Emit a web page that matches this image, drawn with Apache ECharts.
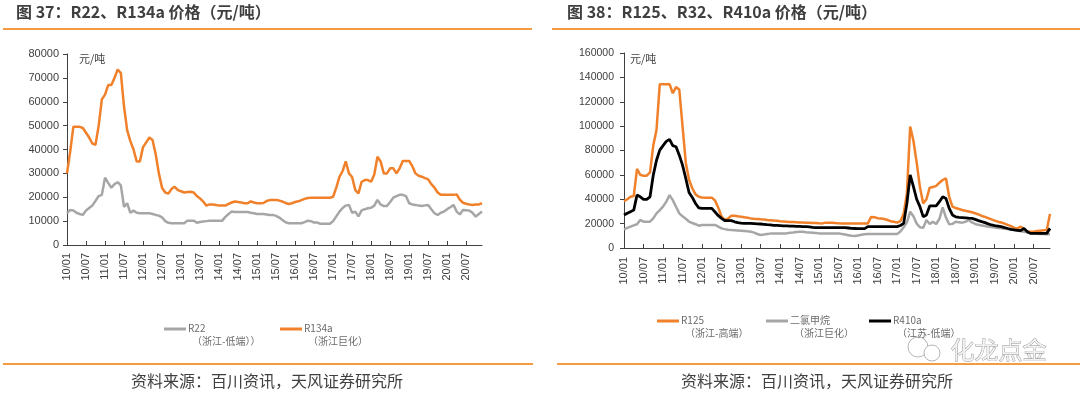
<!DOCTYPE html>
<html>
<head>
<meta charset="utf-8">
<script src="https://cdn.jsdelivr.net/npm/echarts@6/dist/echarts.min.js"></script>
<style>
  html, body { margin: 0; padding: 0; background: #fff; }
  #chart { width: 1080px; height: 397px; }
</style>
</head>
<body>
<div id="chart"></div>
<script>
// months 2010/01 .. 2020/12, one point per month
const months = [];
for (let y = 10; y <= 20; y++) {
  for (let m = 1; m <= 12; m++) months.push(y + '/' + (m < 10 ? '0' + m : m));
}

// 图37 (元/吨)
const r22 = [
  13300, 14700, 14500, 13500, 13000, 12600, 14500, 15500, 16500, 18500, 20500, 21000,
  28200, 26000, 24000, 25500, 26300, 25000, 16000, 17500, 13500, 14400, 13500, 13300,
  13300, 13300, 13300, 13000, 12600, 12300, 11600, 10000, 9300, 9100, 9100, 9100,
  9100, 9100, 10200, 10200, 10200, 9300, 9600, 9800, 10000, 10200, 10200, 10200,
  10200, 10200, 11800, 13000, 14000, 13800, 13800, 13800, 13800, 13800, 13500, 13300,
  13000, 13000, 13000, 12800, 12600, 12600, 12200, 11500, 10500, 9500, 9100, 9100,
  9100, 9100, 9100, 9600, 10200, 10000, 9400, 9400, 8900, 8900, 8900, 8900,
  10000, 12000, 14000, 15500, 16500, 16800, 13500, 14000, 12000, 14500, 15000, 15400,
  15600, 16500, 18900, 17000, 16300, 16300, 18000, 19800, 20500, 21000, 21000, 20500,
  17500, 17000, 16800, 16500, 16300, 16600, 16800, 15000, 13300, 12600, 13500, 14000,
  15000, 15800, 16800, 14000, 12800, 14700, 14600, 14400, 13500, 11900, 13000, 14000
];
const r134a = [
  30000, 39000, 49500, 49500, 49500, 49000, 47000, 45000, 42500, 42000, 50000, 61000,
  63000, 67000, 67000, 70000, 73500, 72000, 58000, 48000, 43500, 40000, 35000, 35000,
  41000, 43000, 45000, 44000, 38000, 30000, 24000, 22000, 21500, 23500, 24400, 23000,
  22500, 22000, 22200, 22300, 22000, 20500, 19500, 18200, 16500, 17000, 17000, 16800,
  16500, 16500, 16500, 17200, 17800, 18200, 18000, 17800, 17500, 17500, 18300, 17800,
  17500, 17500, 17600, 18400, 18800, 18900, 18900, 18600, 18200, 17600, 17200, 17500,
  18000, 18300, 18800, 19300, 19700, 19800, 19800, 19800, 19800, 19800, 19800, 19800,
  20200, 24000, 28500, 31000, 35000, 30000, 28500, 23000, 21600, 26500, 27200, 27200,
  26500, 29500, 37000, 35000, 30000, 30000, 32100, 32100, 30000, 32100, 35200, 35200,
  35200, 33000, 30000, 29000, 28600, 28000, 27500, 25500, 24000, 22000, 21000, 21000,
  21000, 21000, 21000, 21200, 19000, 17700, 17300, 17000, 16800, 17000, 17000, 17500
];

// 图38 (元/吨)
const r125 = [
  38500, 40000, 42000, 42600, 65000, 60000, 59300, 59300, 62000, 84000, 97000, 134400,
  134400, 134400, 134400, 127000, 132000, 130000, 100000, 70000, 56000, 49000, 44000, 42000,
  41500, 41300, 41300, 41300, 39000, 33000, 25700, 23000, 24000, 26500, 26500, 26000,
  25700, 25200, 24800, 24300, 24000, 23800, 23500, 23300, 23000, 22800, 22500, 22300,
  22000, 21800, 21600, 21400, 21300, 21200, 21000, 20900, 20800, 20700, 20600, 20500,
  20300, 20200, 20800, 20800, 20800, 20500, 20300, 20200, 20200, 20200, 20200, 20200,
  20200, 20200, 20200, 20200, 25500, 25200, 24500, 24200, 23800, 23000, 22000, 21500,
  20800, 22000, 28000, 45000, 99600, 88000, 70000, 50000, 36600, 40000, 49500, 50000,
  51000, 53600, 55800, 57200, 42000, 34000, 32800, 32000, 31200, 30500, 30000, 29300,
  28500, 27500, 26300, 25500, 24500, 23500, 22500, 21600, 21000, 20000, 19000, 18000,
  16500, 16100, 17500, 15500, 13800, 13400, 13400, 13900, 14200, 14500, 14800, 28000
];
const r32 = [
  15300, 16500, 17500, 18500, 19500, 23000, 21600, 21600, 21600, 24300, 28400, 31100,
  33900, 38000, 43400, 39300, 33900, 28400, 26000, 24000, 21600, 20500, 19500, 18300,
  18900, 18900, 18900, 18900, 18900, 17500, 16100, 15500, 15000, 14800, 14600, 14400,
  14200, 14000, 13800, 13400, 12600, 11500, 10700, 11000, 11500, 11800, 12000, 12000,
  12000, 12000, 12000, 12500, 12800, 13200, 13400, 13400, 13000, 12800, 12600, 12300,
  12000, 12000, 12000, 12000, 12000, 12000, 12000, 11500, 11000, 10500, 10000, 9800,
  10300, 10800, 11200, 11500, 11500, 11500, 11500, 11500, 11500, 11500, 11500, 11500,
  11500, 13500, 17000, 21000, 29800, 26000, 20000, 17000, 16500, 23000, 19700, 21600,
  19700, 24000, 33400, 25000, 19500, 19800, 21600, 21200, 20800, 21500, 23000, 21000,
  19700, 19000, 18500, 18000, 17500, 17200, 16800, 16500, 16100, 15800, 15500, 15200,
  14800, 14300, 13800, 13400, 12800, 12000, 11800, 11600, 11500, 11400, 11300, 11200
];
const r410a = [
  27000, 28500, 29800, 31100, 43400, 42000, 39900, 39900, 42000, 59800, 72000, 80300,
  84000, 87500, 89100, 84000, 83100, 76200, 68000, 57000, 45500, 41500, 36500, 33000,
  32500, 32500, 32500, 32500, 29500, 26500, 24300, 22400, 22400, 22400, 21500, 20800,
  20400, 20200, 20200, 20200, 20000, 19800, 19700, 19400, 19100, 18900, 18600, 18500,
  18400, 18200, 18100, 18000, 17900, 17800, 17700, 17600, 17500, 17300, 17000, 16800,
  16700, 16700, 16700, 16700, 16700, 16700, 16700, 16700, 16700, 16400, 16100, 16000,
  15900, 15900, 15900, 17500, 17500, 17500, 17500, 17500, 17500, 17500, 17500, 17500,
  17500, 18500, 20200, 36600, 59900, 50300, 40000, 33900, 25700, 27100, 34500, 34500,
  34500, 38000, 42100, 40700, 32500, 27100, 25500, 25200, 25000, 24800, 24500, 24300,
  23500, 22500, 21600, 20800, 19800, 18900, 18400, 18000, 17500, 16800, 16000, 15300,
  14800, 14500, 14200, 16100, 13400, 12000, 12000, 12000, 12000, 12000, 12000, 16100
];

const ORANGE = '#F0812A';
const GREY = '#A6A6A6';
const BLACK = '#000000';
const AXIS = '#404040';
const CN = '"Noto Sans CJK SC", "Liberation Sans", sans-serif';
const NUM = '"Liberation Sans", Arial, sans-serif';

function xAxis(gridIndex, fs, margin) {
  return {
    type: 'category', gridIndex: gridIndex, data: months, boundaryGap: false,
    axisLine: { lineStyle: { color: AXIS, width: 1 } },
    axisTick: { inside: true, interval: 5, length: 4, lineStyle: { color: AXIS } },
    axisLabel: { interval: 5, rotate: 90, fontSize: fs, color: AXIS, fontFamily: NUM, margin: margin },
    splitLine: { show: false }
  };
}
function yAxis(gridIndex, max, step, fs, margin) {
  return {
    type: 'value', gridIndex: gridIndex, min: 0, max: max, interval: step,
    axisLine: { show: true, lineStyle: { color: AXIS, width: 1 } },
    axisTick: { show: true, length: 4, lineStyle: { color: AXIS } },
    axisLabel: { fontSize: fs, color: AXIS, fontFamily: NUM, margin: margin, formatter: v => String(v) },
    splitLine: { show: false }
  };
}
function line(name, data, color, xi, width) {
  return {
    name: name, type: 'line', data: data, xAxisIndex: xi, yAxisIndex: xi,
    showSymbol: false, symbol: 'none', lineStyle: { color: color, width: width || 2.5 },
    itemStyle: { color: color }
  };
}
function legendItem(x, y, color, label, sub) {
  return [
    { type: 'line', shape: { x1: x, y1: y, x2: x + 22, y2: y }, style: { stroke: color, lineWidth: 3 } },
    { type: 'text', left: x + 24, top: y - 6, style: { text: label, fontSize: 10, fill: '#6b6b6b', fontFamily: CN } },
    { type: 'text', left: x + 28, top: y + 7, style: { text: sub, fontSize: 10, fill: '#6b6b6b', fontFamily: CN } }
  ];
}

const chart = echarts.init(document.getElementById('chart'));
chart.setOption({
  backgroundColor: '#fff',
  animation: false,
  grid: [
    { left: 67, top: 54, width: 415, height: 191 },
    { left: 624, top: 53, width: 426, height: 195 }
  ],
  xAxis: [xAxis(0, 11, 8), xAxis(1, 11, 9)],
  yAxis: [yAxis(0, 80000, 10000, 11, 8), yAxis(1, 160000, 20000, 10.5, 10)],
  series: [
    line('R22', r22, GREY, 0),
    line('R134a', r134a, ORANGE, 0),
    line('R125', r125, ORANGE, 1),
    line('二氯甲烷', r32, GREY, 1),
    line('R410a', r410a, BLACK, 1, 2.8)
  ],
  graphic: [
    { type: 'text', left: 16, top: 4, style: { text: '图 37：R22、R134a 价格（元/吨）', fontSize: 16, fontWeight: 'bold', fill: '#3F3F3F', fontFamily: CN } },
    { type: 'text', left: 567, top: 4, style: { text: '图 38：R125、R32、R410a 价格（元/吨）', fontSize: 16, fontWeight: 'bold', fill: '#3F3F3F', fontFamily: CN } },
    { type: 'rect', shape: { x: 3, y: 28, width: 529, height: 2 }, style: { fill: '#F29B42' } },
    { type: 'rect', shape: { x: 552, y: 28, width: 528, height: 2 }, style: { fill: '#F29B42' } },
    { type: 'rect', shape: { x: 3, y: 363, width: 530, height: 2 }, style: { fill: '#F29B42' } },
    { type: 'rect', shape: { x: 557, y: 363, width: 523, height: 2 }, style: { fill: '#F29B42' } },
    { type: 'text', left: 79, top: 53, style: { text: '元/吨', fontSize: 11, fill: AXIS, fontFamily: CN } },
    { type: 'text', left: 630, top: 53, style: { text: '元/吨', fontSize: 11, fill: AXIS, fontFamily: CN } },
    { type: 'text', left: 131, top: 373, style: { text: '资料来源：百川资讯，天风证券研究所', fontSize: 16, fill: '#404040', fontFamily: CN } },
    { type: 'text', left: 681, top: 373, style: { text: '资料来源：百川资讯，天风证券研究所', fontSize: 16, fill: '#404040', fontFamily: CN } },
    { type: 'circle', shape: { cx: 918, cy: 347, r: 10 }, style: { fill: 'none', stroke: '#b5b5b5', lineWidth: 1 } },
    { type: 'circle', shape: { cx: 932, cy: 353, r: 8 }, style: { fill: '#fff', stroke: '#b5b5b5', lineWidth: 1 } },
    { type: 'text', left: 950, top: 337, style: { text: '化龙点金', fontSize: 24, fill: '#f2f2f2', stroke: '#8c8c8c', lineWidth: 0.8, fontFamily: CN } }
  ].concat(
    legendItem(164, 329, GREY, 'R22', '（浙江-低端））'),
    legendItem(280, 329, ORANGE, 'R134a', '（浙江巨化）'),
    legendItem(657, 321, ORANGE, 'R125', '（浙江-高端）'),
    legendItem(766, 321, GREY, '二氯甲烷', '（浙江巨化）'),
    legendItem(869, 321, BLACK, 'R410a', '（江苏-低端）')
  )
});
</script>
</body>
</html>
